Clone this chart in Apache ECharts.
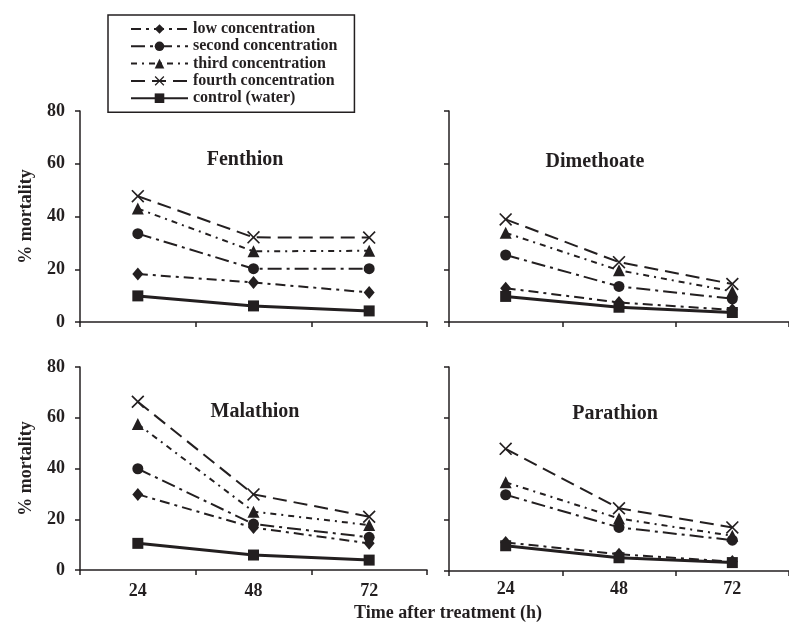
<!DOCTYPE html>
<html>
<head>
<meta charset="utf-8">
<script src="https://cdn.jsdelivr.net/npm/echarts@6/dist/echarts.min.js"></script>
<style>
html, body { margin: 0; padding: 0; background: #fff; }
#chart { width: 789px; height: 627px; }
</style>
</head>
<body>
<div id="chart"></div>
<script>
// time after treatment (h)
var hours = ['24', '48', '72'];
var seriesNames = ['low concentration', 'second concentration', 'third concentration', 'fourth concentration', 'control (water)'];
var panelNames = ['Fenthion', 'Dimethoate', 'Malathion', 'Parathion'];

// % mortality per panel, rows in the order of seriesNames
var fenthion = [
    [18.2, 15, 11.2],
    [33.5, 20.2, 20.2],
    [43, 26.8, 27],
    [47.7, 32.1, 32],
    [9.9, 6.1, 4.2]
];
var dimethoate = [
    [12.8, 7.4, 4.6],
    [25.4, 13.5, 8.8],
    [33.8, 19.6, 11.6],
    [38.9, 22.7, 14.4],
    [9.7, 5.6, 3.6]
];
var malathion = [
    [29.8, 16.7, 10.5],
    [39.9, 18.1, 12.9],
    [57.5, 23, 17.7],
    [66.3, 29.8, 21],
    [10.5, 5.9, 3.9]
];
var parathion = [
    [11.2, 6.6, 3.7],
    [29.9, 17.1, 12.1],
    [34.8, 20.6, 13.8],
    [47.9, 24.6, 17.1],
    [9.9, 5.2, 3.3]
];
var panelData = [fenthion, dimethoate, malathion, parathion];

var ink = '#231f20';
var serif = '"Liberation Serif", "Times New Roman", serif';
var crossPath = 'path://M0,0.9L0.9,0L5,4.1L9.1,0L10,0.9L5.9,5L10,9.1L9.1,10L5,5.9L0.9,10L0,9.1L4.1,5Z';
var markers = ['diamond', 'circle', 'triangle', crossPath, 'rect'];
var markerSizes = [[11, 13], 11, 12, 13, 11];
var dashes = [[10, 5, 3, 5], [14, 5, 3, 5], [6, 5, 2, 5], [14, 7], 'solid'];
var widths = [2, 2, 2, 2, 3];

var grids = [
    { left: 80, top: 111, width: 347, height: 211 },
    { left: 449, top: 111, width: 345, height: 211 },
    { left: 80, top: 367, width: 347, height: 203 },
    { left: 449, top: 367, width: 345, height: 204 }
];
var titlePos = [[245, 160], [595, 162], [255, 412], [615, 414]];

var xAxes = [], yAxes = [], series = [], graphics = [];
grids.forEach(function (g, i) {
    var bottomRow = i >= 2;
    var leftCol = i % 2 === 0;
    xAxes.push({
        gridIndex: i,
        type: 'category',
        data: hours,
        boundaryGap: true,
        axisLine: { lineStyle: { color: ink, width: 1.5 } },
        axisTick: { show: true, length: 5, lineStyle: { color: ink, width: 1.5 } },
        axisLabel: {
            show: bottomRow,
            margin: i === 3 ? 9 : 12,
            color: ink, fontFamily: serif, fontWeight: 'bold', fontSize: 18
        },
        splitLine: { show: false }
    });
    yAxes.push({
        gridIndex: i,
        type: 'value',
        min: 0, max: 80, interval: 20,
        name: leftCol ? '% mortality' : '',
        nameLocation: 'middle',
        nameGap: 45,
        nameTextStyle: { color: ink, fontFamily: serif, fontWeight: 'bold', fontSize: 18 },
        axisLine: { show: true, lineStyle: { color: ink, width: 1.5 } },
        axisTick: { show: true, length: 5, lineStyle: { color: ink, width: 1.5 } },
        axisLabel: {
            show: leftCol,
            margin: 15,
            color: ink, fontFamily: serif, fontWeight: 'bold', fontSize: 18
        },
        splitLine: { show: false }
    });
    panelData[i].forEach(function (vals, s) {
        series.push({
            name: seriesNames[s],
            type: 'line',
            xAxisIndex: i,
            yAxisIndex: i,
            data: vals,
            symbol: markers[s],
            symbolSize: markerSizes[s],
            showSymbol: true,
            itemStyle: { color: ink },
            lineStyle: { color: ink, width: widths[s], type: dashes[s] },
            z: s === 4 ? 3 : 2,
            animation: false
        });
    });
    graphics.push({
        type: 'text',
        x: titlePos[i][0], y: titlePos[i][1],
        style: {
            text: panelNames[i],
            fill: ink,
            font: 'bold 20px ' + serif,
            textAlign: 'center',
            textVerticalAlign: 'middle'
        }
    });
});

graphics.push({
    type: 'text',
    x: 448, y: 613,
    style: {
        text: 'Time after treatment (h)',
        fill: ink,
        font: 'bold 18px ' + serif,
        textAlign: 'center',
        textVerticalAlign: 'middle'
    }
});

var chart = echarts.init(document.getElementById('chart'));
chart.setOption({
    animation: false,
    backgroundColor: '#fff',
    grid: grids,
    xAxis: xAxes,
    yAxis: yAxes,
    legend: {
        data: seriesNames,
        orient: 'vertical',
        left: 108,
        top: 15,
        padding: [6, 17, 6, 22],
        itemGap: 1.3,
        itemWidth: 57,
        itemHeight: 12,
        borderColor: ink,
        borderWidth: 1.5,
        backgroundColor: '#fff',
        selectedMode: false,
        textStyle: { color: ink, fontFamily: serif, fontWeight: 'bold', fontSize: 16 }
    },
    series: series,
    graphic: graphics
});
</script>
</body>
</html>
